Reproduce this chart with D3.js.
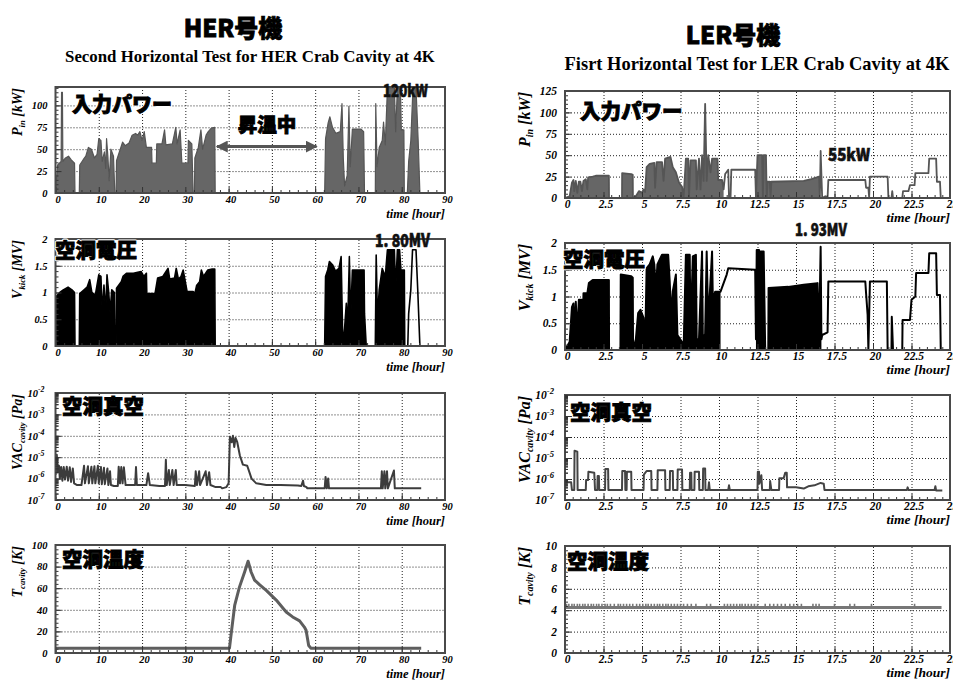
<!DOCTYPE html>
<html>
<head>
<meta charset="utf-8">
<script src="https://cdn.jsdelivr.net/npm/d3@7"></script>
<style>
  body { margin: 0; background: #fff; }
  svg { display: block; }
</style>
</head>
<body>
<svg id="chart" width="953" height="682"></svg>
<script>
// ---------------- data ----------------
// HER cavity: time [hour] vs value
const herPower = [
  [0,0],[0.2,14],[0.5,32],[1.3,36],[1.4,115],[1.6,115],[1.7,36],[2.3,40],[3.0,42],[3.6,38],[4.4,34],[4.5,0],
  [5.5,0],[5.6,32],[6.4,38],[7.0,42],[7.6,52],[8.3,50],[9.0,40],[9.6,44],[10.0,62],[10.5,60],[10.8,36],[11.3,47],[11.6,28],[11.8,62],[12.1,42],[12.4,14],[12.8,50],[13.4,42],[13.7,0],
  [14.0,0],[14.1,37],[14.7,46],[15.5,58],[16.1,54],[17.0,57],[17.7,66],[18.5,68],[19.0,66],[19.5,70],[20.0,60],[20.5,70],[21.0,52],[22.2,52],[22.3,34],[23.3,34],[23.4,56],[24.6,56],[25.2,72],[25.5,55],[27.0,56],[27.8,75],[28.1,56],[28.8,72],[29.2,34],[30.6,34],[30.7,60],[31.5,56],[31.8,0],
  [32.1,0],[32.2,40],[33.0,52],[33.6,72],[34.0,50],[34.8,66],[35.3,70],[36.0,74],[36.8,75],[36.9,0],
  [62.2,0],[62.4,62],[63.0,80],[63.4,87],[64.0,75],[64.8,68],[65.8,70],[66.2,102],[66.5,40],[66.8,8],[67.4,20],[67.8,99],[68.1,30],[68.6,73],[70.6,73],[71.2,70],[71.4,0],
  [73.9,0],[74.0,102],[74.3,30],[74.8,52],[75.5,60],[75.8,81],[76.2,55],[76.7,120],[78.3,120],[78.6,70],[79.0,120],[79.7,120],[79.9,72],[80.5,72],[80.6,0],
  [81.3,0],[81.6,36],[82.1,60],[82.6,120],[83.3,120],[83.8,60],[84.2,0],[90,0]
];
const herVolt = [
  [0,0],[0.1,0.92],[1.0,1.0],[1.8,1.05],[2.9,1.1],[3.8,1.05],[4.4,1.0],[4.5,0],
  [5.5,0],[5.6,0.98],[6.6,1.05],[7.3,1.1],[7.9,1.24],[8.4,1.0],[9.2,0.95],[10.0,1.33],[10.5,1.3],[10.8,0.62],[11.2,1.14],[11.6,0.62],[11.9,1.33],[12.3,1.0],[12.6,0.62],[13.0,1.05],[13.6,1.0],[13.7,0],
  [14.0,0],[14.1,1.08],[15.2,1.2],[15.6,1.3],[16.4,1.36],[18.0,1.36],[19.0,1.38],[19.8,1.39],[20.4,1.3],[21.0,1.36],[21.1,0.98],[23.0,0.98],[23.6,1.27],[24.8,1.3],[26.0,1.45],[26.4,1.25],[27.5,1.27],[27.9,1.45],[28.4,1.25],[29.0,1.3],[29.5,1.42],[30.0,1.2],[30.4,1.02],[31.8,1.02],[32.2,0.98],[32.6,1.13],[33.3,1.2],[33.7,1.42],[34.2,1.3],[35.2,1.42],[36.2,1.44],[36.8,1.44],[36.9,0],
  [62.2,0],[62.4,1.3],[62.9,1.42],[63.3,1.58],[64.0,1.52],[64.7,1.4],[65.5,1.45],[66.0,1.67],[66.4,0],[66.8,0.33],[67.2,0.8],[67.5,0.33],[67.9,1.67],[68.2,0.5],[68.6,1.42],[70.5,1.42],[71.3,1.42],[71.4,0.6],[71.8,0],
  [73.9,0],[74.1,1.7],[74.4,0.5],[74.8,1.05],[75.5,1.45],[76.2,1.3],[76.7,1.8],[78.3,1.8],[78.6,1.05],[79.0,1.8],[79.5,1.8],[79.8,1.42],[80.6,1.42],[80.7,0],
  [81.4,0],[81.6,0.6],[82.1,1.05],[82.5,1.8],[83.3,1.8],[83.7,1.05],[84.2,0],[90,0]
];
const herVoltFillSpans = [[0, 81.35]];
const herVac = [
  [0,1.5e-6],[0.3,1.3e-5],[0.5,2e-6],[0.8,4e-6],[1.0,1e-6],[1.3,3.5e-6],[1.6,8e-7],[1.9,3.5e-6],[2.2,9e-7],[2.6,3.6e-6],[2.9,8e-7],[3.3,3.4e-6],[3.6,7e-7],[4.0,3e-6],[4.3,6e-7],
  [5.0,5e-7],[6.0,5e-7],[6.6,4e-6],[6.8,6e-7],[7.5,3.8e-6],[7.7,6e-7],[8.3,3.6e-6],[8.5,6e-7],[9.0,3.8e-6],[9.2,6e-7],[9.8,4e-6],[10.0,6e-7],[10.5,3.5e-6],[10.7,5.5e-7],[11.2,3.2e-6],[11.4,5.5e-7],[12.0,3e-6],[12.2,5e-7],[12.6,2.2e-6],[12.8,5e-7],[13.5,4.5e-7],[14.4,4.5e-7],[14.6,3.6e-6],[14.9,6e-7],[15.2,3.5e-6],[15.5,6e-7],[15.8,3.4e-6],[16.2,5e-7],[17.0,5e-7],[18.4,5e-7],[18.6,3.5e-6],[18.8,5e-7],[21.0,5e-7],[21.4,1.8e-6],[21.8,5e-7],[24.0,4.5e-7],
  [25.3,4.5e-7],[25.5,7.5e-6],[25.7,5e-7],[26.2,2.5e-6],[26.4,5e-7],[27.0,2.5e-6],[27.3,5e-7],[27.8,2.5e-6],[28.0,5e-7],[30.0,5e-7],[32.2,4.5e-7],[32.4,2.2e-6],[32.7,5e-7],[33.2,2.2e-6],[33.4,5e-7],[34.7,2.2e-6],[35.0,5e-7],[35.5,2e-6],[35.8,5e-7],[37.0,4e-7],[38.2,4e-7],[38.5,3.5e-7],[39.5,4e-7],
  [40.0,6e-7],[40.3,9e-5],[40.7,5e-5],[41.0,1e-4],[41.3,3e-5],[41.6,8e-5],[42.0,5e-5],[42.6,1.2e-5],[43.3,4.5e-6],[44.3,4e-6],[44.8,2e-6],[45.3,1e-6],[46.4,6e-7],[48.7,5e-7],[52.0,5e-7],[56.0,4.8e-7],[56.8,4.5e-7],[57.2,8e-7],[57.4,4.5e-7],[58.0,4e-7],[58.2,3.5e-7],
  [62.2,3.5e-7],[62.4,1.2e-6],[62.7,3.5e-7],[63.0,1.0e-6],[63.2,3.5e-7],[70.0,3.5e-7],[75.2,3.5e-7],[75.4,2.2e-6],[75.6,3.5e-7],[76.0,2.2e-6],[76.2,3.5e-7],[76.6,2.2e-6],[76.8,3.5e-7],[78.2,2.4e-6],[78.4,3.5e-7],[84.5,3.5e-7]
];
const herTemp = [
  [0,4.5],[40.2,4.5],[40.6,18],[41.4,44],[42.5,61],[43.7,75],[44.5,85],[45.2,75],[46.0,67.5],[47.2,63],[48.7,58],[51.0,49],[53.3,38],[54.8,33.4],[56.4,29.7],[57.5,24],[57.9,21],[58.5,7],[59.0,4.5],[84.5,4.5]
];

// LER cavity: time [hour] vs value
const lerPower = [
  [0,0],[0.3,2],[0.45,18],[0.55,21],[0.6,8],[0.7,20],[0.8,6],[0.9,19],[1.0,19],[1.1,8],[1.2,20],[1.35,22],[1.45,10],[1.5,24],[1.8,25],[2.0,26],[2.85,26],[2.86,0],
  [3.7,0],[3.71,29],[4.3,28],[4.4,27],[4.41,0],
  [4.6,2],[4.8,8],[5.0,6],[5.1,10],[5.2,7],[5.3,36],[5.5,40],[5.8,41],[5.85,12],[5.95,42],[6.3,42],[6.4,20],[6.5,46],[6.85,48],[7.0,36],[7.2,30],[7.4,18],[7.6,13],[7.7,0],[7.85,46],[8.0,46],[8.05,0],[8.15,44],[8.5,44],[8.55,10],[8.7,46],[8.8,10],[8.9,50],[9.0,20],[9.1,110],[9.2,20],[9.3,50],[9.45,30],[9.55,46],[9.9,46],[9.95,21],[10.2,21],[10.3,10],
  [10.4,28],[10.6,33],[10.65,0],[10.75,0],[10.8,33],[12.35,33],[12.4,0],[12.5,50],[12.8,50],[12.85,0],[12.9,50],[13.05,50],[13.1,0],[13.15,19],[13.3,19],[13.35,0],[13.4,19],[15.5,20],[16.0,22],[16.5,25],[16.55,0],[16.6,55],[16.7,0],
  [16.9,2],[17.05,0],[17.1,21],[19.5,21],[19.55,12],[19.7,12],[19.75,0],[19.8,25],[20.95,25],[21.0,0],[21.2,0],[21.25,8],[21.3,0],[21.9,0],[21.95,8],[22.3,8],[22.4,15],[22.7,15],[22.75,29],[23.6,29],[23.65,46],[24.1,46],[24.15,19],[24.35,19],[24.4,0],[24.5,0]
];
const lerPowerFillSpans = [[0, 10.3], [12.4, 16.55]];
const lerVolt = [
  [0,0],[0.3,0.15],[0.45,0.8],[0.55,0.87],[0.6,0.2],[0.7,0.9],[0.8,0.3],[0.9,0.94],[1.1,0.94],[1.15,0.4],[1.2,1.06],[1.45,1.06],[1.55,1.25],[1.8,1.31],[2.85,1.31],[2.86,0],
  [3.6,0],[3.62,1.41],[4.3,1.38],[4.4,1.35],[4.42,0],
  [4.6,0.2],[4.75,0.69],[4.9,0.75],[5.1,0.6],[5.2,0],[5.3,1.53],[5.5,1.6],[5.7,1.75],[5.8,1.6],[5.9,1.1],[6.0,1.6],[6.3,1.78],[6.7,1.78],[6.8,1.28],[6.9,0.6],[7.0,1.1],[7.2,1.41],[7.3,0.28],[7.6,0.15],[7.7,0],[7.85,1.78],[8.1,1.78],[8.15,0.3],[8.3,1.75],[8.5,1.78],[8.55,0.2],[8.7,0.2],[8.9,1.84],[8.95,0.2],[9.1,0.3],[9.2,1.84],[9.3,0.5],[9.55,1.84],[9.6,0.9],[9.75,1.09],[10.1,1.09],
  [10.5,1.41],[10.6,1.53],[12.35,1.5],[12.4,0.2],[12.45,1.87],[12.6,1.87],[12.65,0.3],[12.7,1.84],[12.9,1.84],[13.0,0],[13.2,0],[13.22,1.16],[14.5,1.18],[15.5,1.22],[16.4,1.25],[16.5,0.2],[16.6,1.93],[16.65,0.2],
  [16.7,0.28],[17.05,0.33],[17.1,1.28],[19.5,1.28],[19.55,1.06],[19.65,0.66],[19.7,0],[19.8,1.28],[20.9,1.28],[20.95,0],[21.2,0],[21.22,0.62],[21.3,0],[21.9,0],[21.92,0.56],[22.4,0.56],[22.5,0.94],[22.75,1.0],[22.8,1.44],[23.6,1.44],[23.65,1.81],[24.1,1.81],[24.15,1.03],[24.35,1.03],[24.4,0],[24.5,0]
];
const lerVoltFillSpans = [[0, 10.1], [12.4, 16.65]];
const lerVac = [
  [0,3e-7],[0.05,7e-7],[0.4,7e-7],[0.45,3e-7],[0.6,3e-7],[0.62,2.2e-5],[0.8,2e-5],[0.82,3e-7],[1.35,3e-7],[1.37,9e-7],[1.5,9e-7],[1.52,2.2e-6],[1.9,2e-6],[1.95,3e-7],[2.1,3e-7],[2.12,1.4e-6],[2.2,1.4e-6],[2.22,3e-7],[2.6,3e-7],[2.62,3e-6],[2.8,3e-6],[2.82,3e-7],
  [3.7,3e-7],[3.72,2.4e-6],[3.9,2.4e-6],[3.92,3e-7],[4.0,3e-7],[4.02,2.2e-6],[4.3,2.2e-6],[4.32,3e-7],[5.1,3e-7],[5.12,1.6e-6],[5.3,2.4e-6],[5.6,2.4e-6],[5.62,3e-7],[6.0,3e-7],[6.02,2.6e-6],[6.5,2.6e-6],[6.52,3e-7],[6.8,3e-7],[6.82,2.4e-6],[7.0,2.4e-6],[7.02,3e-7],[7.3,3e-7],[7.32,2.8e-6],[7.6,2.8e-6],[7.62,3e-7],
  [8.1,3e-7],[8.12,2e-6],[8.2,2e-6],[8.22,3e-7],[8.4,3e-7],[8.42,2.2e-6],[8.7,2.2e-6],[8.72,3e-7],[8.95,3e-7],[8.97,3.2e-6],[9.1,3.2e-6],[9.12,3e-7],[9.3,3e-7],[9.35,7e-7],[9.4,3e-7],[10.6,3e-7],[10.65,5e-7],[10.7,3e-7],
  [12.5,3e-7],[12.52,2.2e-6],[12.6,2.2e-6],[12.62,6e-7],[12.75,1.5e-6],[12.8,3e-7],[13.3,3e-7],[13.32,8e-7],[13.4,3e-7],[13.9,3e-7],[13.92,1.1e-6],[14.2,1.1e-6],[14.3,2e-6],[14.4,2e-6],[14.42,4e-7],[15.0,4e-7],[15.5,3.5e-7],[15.8,4.5e-7],[16.2,5e-7],[16.6,6.5e-7],[16.8,6e-7],[16.85,3e-7],
  [22.2,3e-7],[22.25,4e-7],[22.3,3e-7],[24.0,3e-7],[24.05,4.5e-7],[24.1,2.8e-7],[24.5,2.8e-7]
];
const lerTemp = [[0,4.25],[24.45,4.25]];
const lerTempBlips = [
  0.1,0.25,0.45,0.6,0.8,0.95,1.15,1.3,1.5,1.7,1.85,2.05,2.2,2.4,2.6,2.75,2.95,3.2,3.45,3.6,3.8,4.0,4.2,4.4,4.65,4.85,5.05,5.25,5.4,5.6,5.8,6.0,6.15,6.35,6.55,6.7,6.9,7.1,7.3,7.5,7.7,7.95,8.2,8.5,
  9.2,9.45,10.35,10.55,10.75,10.95,11.15,11.35,11.5,11.7,11.9,12.1,12.3,12.5,13.0,13.3,13.55,13.8,14.05,14.3,14.6,14.85,15.1,15.35,16.1,16.3,16.5,17.5,18.5,18.8,19.9,22.7
];
const lerTempBlipTop = 4.6;

// axis tick values
const herTimeTicks = [0,10,20,30,40,50,60,70,80,90];
const lerTimeTicks = [0,2.5,5,7.5,10,12.5,15,17.5,20,22.5,25];
const herPowerTicks = [0,25,50,75,100];
const lerPowerTicks = [0,25,50,75,100,125];
const voltTicks = [0,0.5,1,1.5,2];
const vacTicks = [1e-7,1e-6,1e-5,1e-4,1e-3,1e-2];
const herTempTicks = [0,20,40,60,80,100];
const lerTempTicks = [0,2,4,6,8,10];

// ---------------- drawing ----------------
const SERIF = '"Liberation Serif","Times New Roman",serif';
const JP = '"Noto Sans CJK JP","Noto Sans CJK SC",sans-serif';
const svg = d3.select('#chart');
svg.append('rect').attr('width', 953).attr('height', 682).attr('fill', '#fff');

let clipCount = 0;
function makePanel(o) {
  const x = d3.scaleLinear().domain(o.xDomain).range(o.xr);
  const y = (o.log ? d3.scaleLog() : d3.scaleLinear()).domain(o.yDomain).range([o.yr[1], o.yr[0]]);
  const w = o.xr[1] - o.xr[0], h = o.yr[1] - o.yr[0];
  const id = 'clip' + (clipCount++);
  svg.append('clipPath').attr('id', id).append('rect')
    .attr('x', o.xr[0]).attr('y', o.yr[0]).attr('width', w).attr('height', h);

  const root = svg.append('g');
  // dotted grid
  const grid = root.append('g');
  const gxv = o.xTicks.filter(v => v > o.xDomain[0] && v < o.xDomain[1]);
  const gyv = o.yTicks.filter(v => v > o.yDomain[0] && v < o.yDomain[1]);
  grid.append('g').attr('transform', `translate(0,${o.yr[1]})`)
    .call(d3.axisBottom(x).tickValues(gxv).tickSize(-h).tickFormat(''));
  grid.append('g').attr('transform', `translate(${o.xr[0]},0)`)
    .call(d3.axisLeft(y).tickValues(gyv).tickSize(-w).tickFormat(''));
  grid.selectAll('.domain').remove();
  grid.selectAll('line').attr('stroke', '#222').attr('stroke-width', 1).attr('stroke-dasharray', '1,2');

  const plot = root.append('g').attr('clip-path', `url(#${id})`);
  const over = root.append('g');

  function finish() {
    // minor ticks
    const minorX = over.append('g').attr('transform', `translate(0,${o.yr[1]})`)
      .call(d3.axisBottom(x).tickValues(o.xMinor).tickSize(-3).tickFormat(''));
    const minorY = over.append('g').attr('transform', `translate(${o.xr[0]},0)`)
      .call(d3.axisLeft(y).tickValues(o.yMinor).tickSize(-3).tickFormat(''));
    // major ticks + labels
    const ax = over.append('g').attr('transform', `translate(0,${o.yr[1]})`)
      .call(d3.axisBottom(x).tickValues(o.xTicks).tickSize(-6).tickPadding(o.xPad)
        .tickFormat(d => String(d)));
    const ay = over.append('g').attr('transform', `translate(${o.xr[0]},0)`)
      .call(d3.axisLeft(y).tickValues(o.yTicks).tickSize(-6).tickPadding(o.log ? 11 : 8)
        .tickFormat(d => o.log ? '' : String(d)));
    [minorX, minorY, ax, ay].forEach(a => {
      a.selectAll('.domain').remove();
      a.selectAll('line').attr('stroke', '#333').attr('stroke-width', 1);
    });
    [ax, ay].forEach(a => a.selectAll('text')
      .attr('font-family', SERIF).attr('font-weight', 'bold').attr('font-style', 'italic')
      .attr('font-size', o.tickFs).attr('fill', '#000'));
    ax.selectAll('text').attr('dx', 2);
    if (o.log) {
      ay.selectAll('.tick text').each(function (d) {
        const t = d3.select(this);
        t.text(null);
        t.append('tspan').text('10');
        t.append('tspan').attr('dy', '-0.65em').attr('font-size', '0.75em')
          .text(String(Math.round(Math.log10(d))));
      });
    }
    // frame
    over.append('rect').attr('x', o.xr[0]).attr('y', o.yr[0]).attr('width', w).attr('height', h)
      .attr('fill', 'none').attr('stroke', '#4a4a4a').attr('stroke-width', 2);
    // x title
    over.append('text').attr('x', o.xr[1]).attr('y', o.yr[1] + o.timeDy)
      .attr('text-anchor', 'end').attr('font-family', SERIF).attr('font-weight', 'bold')
      .attr('font-style', 'italic').attr('font-size', o.timeFs).text('time [hour]');
    // y title (rotated, aligned to the top of the frame)
    const yt = over.append('text')
      .attr('transform', `translate(${o.titleX},${o.yr[0] + 1}) rotate(-90)`)
      .attr('text-anchor', 'end').attr('font-family', SERIF).attr('font-weight', 'bold')
      .attr('font-style', 'italic').attr('font-size', o.titleFs);
    yt.append('tspan').text(o.title[0]);
    yt.append('tspan').attr('dy', '0.3em').attr('font-size', '0.62em').text(o.title[1]);
    yt.append('tspan').attr('dy', '-0.18em').text(' ' + o.title[2]);
  }
  return { x, y, plot, over, finish };
}

function inSpans(t, spans) { return spans.some(s => t >= s[0] && t <= s[1]); }

function drawSeries(p, data, opt) {
  if (opt.fill) {
    const area = d3.area()
      .defined(d => !opt.spans || inSpans(d[0], opt.spans))
      .x(d => p.x(d[0])).y0(p.y(opt.base)).y1(d => p.y(d[1]));
    p.plot.append('path').datum(data).attr('d', area).attr('fill', opt.fill);
  }
  const line = d3.line().x(d => p.x(d[0])).y(d => p.y(d[1]));
  p.plot.append('path').datum(data).attr('d', line).attr('fill', 'none')
    .attr('stroke', opt.stroke).attr('stroke-width', opt.width)
    .attr('stroke-linejoin', 'round');
}

function jpLabel(x, y, txt, fs) {
  const g = svg.append('g');
  g.append('text').attr('x', x).attr('y', y).attr('font-family', JP).attr('font-weight', 900)
    .attr('font-size', fs).attr('fill', '#fff').attr('stroke', '#fff').attr('stroke-width', 3)
    .attr('stroke-linejoin', 'round').text(txt);
  g.append('text').attr('x', x).attr('y', y).attr('font-family', JP).attr('font-weight', 900)
    .attr('font-size', fs).attr('fill', '#000').attr('stroke', '#000').attr('stroke-width', 0.9)
    .text(txt);
}
function valueLabel(x, y, txt, width, fs) {
  svg.append('text').attr('x', x).attr('y', y).attr('font-family', JP).attr('font-weight', 900)
    .attr('font-size', fs).attr('textLength', width).attr('lengthAdjust', 'spacingAndGlyphs')
    .attr('fill', '#111').attr('stroke', '#111').attr('stroke-width', 0.6).text(txt);
}
function fitTitle(cx, y, txt, width) {
  const t = svg.append('text').attr('x', cx).attr('y', y).attr('text-anchor', 'middle')
    .attr('font-family', SERIF).attr('font-weight', 'bold').attr('font-size', 15).text(txt);
  const L = t.node().getComputedTextLength();
  t.attr('font-size', 15 * width / L);
}

// panel layouts
const HX = [55.5, 445], LX = [565, 950];
const herCommon = { xr: HX, xDomain: [0, 90], xTicks: herTimeTicks, xMinor: d3.range(0, 91, 2),
  tickFs: 10.5, xPad: 3, timeDy: 25, timeFs: 12.5, titleX: 22, titleFs: 14 };
const lerCommon = { xr: LX, xDomain: [0, 25], xTicks: lerTimeTicks, xMinor: d3.range(0, 25.01, 0.5),
  tickFs: 11.5, xPad: 2, timeDy: 23.5, timeFs: 13.5, titleX: 530, titleFs: 16 };

// ---- HER ----
const h1 = makePanel({ ...herCommon, yr: [87, 193], yDomain: [0, 121], yTicks: herPowerTicks,
  yMinor: d3.range(0, 121, 5), title: ['P', 'in', '[kW]'] });
drawSeries(h1, herPower, { fill: '#666', base: 0, stroke: '#555', width: 1.2 });
h1.finish();

const h2 = makePanel({ ...herCommon, yr: [239, 346], yDomain: [0, 2], yTicks: voltTicks,
  yMinor: d3.range(0, 2.01, 0.1), title: ['V', 'kick', '[MV]'] });
drawSeries(h2, herVolt, { fill: '#000', base: 0, spans: herVoltFillSpans, stroke: '#000', width: 1.6 });
h2.finish();

const h3 = makePanel({ ...herCommon, yr: [393, 500], yDomain: [1e-7, 1e-2], log: true, yTicks: vacTicks,
  yMinor: null, title: ['VAC', 'cavity', '[Pa]'] });
drawSeries(h3, herVac, { stroke: '#3c3c3c', width: 2 });
h3.finish();

const h4 = makePanel({ ...herCommon, yr: [545, 653], yDomain: [0, 100], yTicks: herTempTicks,
  yMinor: d3.range(0, 101, 4), title: ['T', 'cavity', '[K]'] });
drawSeries(h4, herTemp, { stroke: '#5e5e5e', width: 3 });
h4.finish();

// ---- LER ----
const l1 = makePanel({ ...lerCommon, yr: [91, 198], yDomain: [0, 125], yTicks: lerPowerTicks,
  yMinor: d3.range(0, 126, 5), title: ['P', 'in', '[kW]'] });
drawSeries(l1, lerPower, { fill: '#666', base: 0, spans: lerPowerFillSpans, stroke: '#555', width: 1.8 });
l1.finish();

const l2 = makePanel({ ...lerCommon, yr: [243, 350], yDomain: [0, 2], yTicks: voltTicks,
  yMinor: d3.range(0, 2.01, 0.1), title: ['V', 'kick', '[MV]'] });
drawSeries(l2, lerVolt, { fill: '#000', base: 0, spans: lerVoltFillSpans, stroke: '#000', width: 2 });
l2.finish();

const l3 = makePanel({ ...lerCommon, yr: [395, 500], yDomain: [1e-7, 1e-2], log: true, yTicks: vacTicks,
  yMinor: null, title: ['VAC', 'cavity', '[Pa]'] });
drawSeries(l3, lerVac, { stroke: '#444', width: 2 });
l3.finish();

const l4 = makePanel({ ...lerCommon, yr: [546, 653], yDomain: [0, 10], yTicks: lerTempTicks,
  yMinor: d3.range(0, 10.01, 0.4), title: ['T', 'cavity', '[K]'] });
drawSeries(l4, lerTemp, { stroke: '#777', width: 3 });
l4.plot.selectAll('line.blip').data(lerTempBlips).join('line').attr('class', 'blip')
  .attr('x1', d => l4.x(d)).attr('x2', d => l4.x(d))
  .attr('y1', l4.y(lerTemp[0][1])).attr('y2', l4.y(lerTempBlipTop))
  .attr('stroke', '#777').attr('stroke-width', 1.6);
l4.finish();

// log-axis minor ticks (2..9 per decade)
[h3, l3].forEach(p => {
  const g = p.over.append('g').attr('transform', `translate(${p.x.range()[0]},0)`)
    .call(d3.axisLeft(p.y).tickValues(p.y.ticks()).tickSize(-3).tickFormat(''));
  g.selectAll('.domain').remove();
  g.selectAll('line').attr('stroke', '#333');
});

// ---------------- headings & annotations ----------------
svg.append('text').attr('x', 233).attr('y', 37).attr('text-anchor', 'middle')
  .attr('font-family', JP).attr('font-weight', 900).attr('font-size', 24)
  .attr('stroke', '#000').attr('stroke-width', 0.8).text('HER号機');
svg.append('text').attr('x', 733).attr('y', 44).attr('text-anchor', 'middle')
  .attr('font-family', JP).attr('font-weight', 900).attr('font-size', 24)
  .attr('stroke', '#000').attr('stroke-width', 0.8).text('LER号機');
fitTitle(250, 62, 'Second Horizontal Test for HER Crab Cavity at 4K', 370);
fitTitle(757, 70, 'Fisrt Horizontal Test for LER Crab Cavity at 4K', 385);

jpLabel(72, 112, '入力パワー', 20);
jpLabel(55, 258, '空洞電圧', 20.5);
jpLabel(62, 414, '空洞真空', 20.5);
jpLabel(62, 567, '空洞温度', 20.5);
jpLabel(580, 119, '入力パワー', 20.5);
jpLabel(563, 267, '空洞電圧', 20.5);
jpLabel(570, 420, '空洞真空', 20.5);
jpLabel(567, 569, '空洞温度', 20.5);

// warming period marker on the HER power panel
const warmStart = 37.3, warmEnd = 60.3, warmLevel = 53;
const defs = svg.append('defs');
['a0', 'a1'].forEach((id, i) => {
  defs.append('marker').attr('id', id).attr('viewBox', '0 0 10 10').attr('refX', i ? 9 : 1).attr('refY', 5)
    .attr('markerWidth', 4).attr('markerHeight', 4).attr('orient', 'auto')
    .append('path').attr('d', i ? 'M0,0L10,5L0,10Z' : 'M10,0L0,5L10,10Z').attr('fill', '#555');
});
svg.append('line').attr('x1', h1.x(warmStart)).attr('x2', h1.x(warmEnd))
  .attr('y1', h1.y(warmLevel)).attr('y2', h1.y(warmLevel))
  .attr('stroke', '#555').attr('stroke-width', 3)
  .attr('marker-start', 'url(#a0)').attr('marker-end', 'url(#a1)');
jpLabel(h1.x((warmStart + warmEnd) / 2) - 29, 132, '昇温中', 19.5);

valueLabel(383, 97, '120kW', 45, 17);
valueLabel(375, 247, '1. 80MV', 55, 18);
valueLabel(828, 161, '55kW', 42, 17);
valueLabel(795, 236, '1. 93MV', 52, 17);
</script>
</body>
</html>
